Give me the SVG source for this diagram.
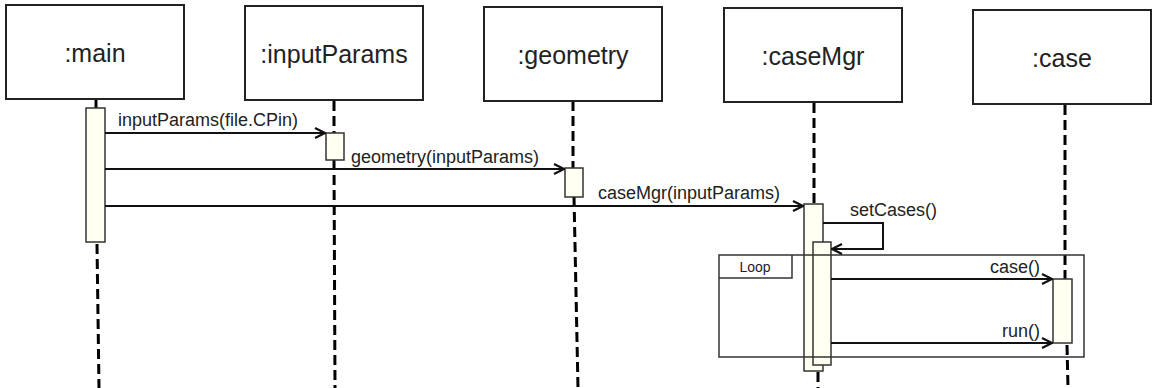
<svg xmlns="http://www.w3.org/2000/svg" width="1152" height="388" viewBox="0 0 1152 388">
<style>
.box{fill:#fff;stroke:#222;stroke-width:2}
.act{fill:#fffff2;stroke:#333;stroke-width:1.5}
.life{stroke:#000;stroke-width:3;stroke-dasharray:10 5;fill:none}
.solid{stroke:#000;stroke-width:3;fill:none}
.msg{stroke:#111;stroke-width:2;fill:none;marker-end:url(#arr)}
.frame{fill:none;stroke:#333;stroke-width:1.5}
.t{font-family:"Liberation Sans",Arial,sans-serif;fill:#222}
.big{font-size:25px;text-anchor:middle}
.lbl{font-size:18px}
</style>
<defs>
<marker id="arr" viewBox="0 0 12 12" refX="11" refY="6" markerWidth="12" markerHeight="12" markerUnits="userSpaceOnUse" orient="auto">
<path d="M1,1 L11,6 L1,11" fill="none" stroke="#111" stroke-width="2.2"/>
</marker>
</defs>
<g id="lifelines">
<line class="solid" x1="96" y1="99" x2="96" y2="108"/>
<line class="life" x1="97" y1="244" x2="99" y2="388"/>
<line class="life" x1="334" y1="101" x2="334" y2="133"/>
<line class="life" x1="334" y1="160" x2="335" y2="388"/>
<line class="life" x1="573" y1="101" x2="573" y2="168"/>
<line class="life" x1="574" y1="197" x2="578" y2="388"/>
<line class="life" x1="814" y1="103" x2="814" y2="204"/>
<line class="life" x1="818" y1="372" x2="818" y2="388"/>
<line class="life" x1="1065" y1="105" x2="1065" y2="279"/>
<line class="life" x1="1067" y1="345" x2="1068" y2="388"/>
</g>
<g id="main">
<rect class="box" x="6" y="5" width="178" height="94"/>
<text class="t big" x="95" y="62">:main</text>
<rect class="act" x="86" y="108" width="19" height="134"/>
</g>
<g id="inputParams">
<rect class="box" x="245" y="6" width="178" height="94"/>
<text class="t big" x="334" y="63">:inputParams</text>
<rect class="act" x="326" y="133" width="18" height="27"/>
</g>
<g id="geometry">
<rect class="box" x="484" y="7" width="178" height="94"/>
<text class="t big" x="573" y="64">:geometry</text>
<rect class="act" x="565" y="168" width="18" height="29"/>
</g>
<g id="caseMgr">
<rect class="box" x="724" y="8" width="178" height="94"/>
<text class="t big" x="813" y="65">:caseMgr</text>
<rect class="act" x="804" y="204" width="19" height="167"/>
<rect class="act" x="813" y="242" width="18" height="123"/>
</g>
<g id="case">
<rect class="box" x="973" y="10" width="178" height="94"/>
<text class="t big" x="1062" y="67">:case</text>
<rect class="act" x="1053" y="279" width="19" height="64"/>
</g>
<g id="loop">
<rect class="frame" x="719" y="255" width="365" height="102"/>
<path class="frame" d="M719,278 H792 V255"/>
<text class="t" x="755" y="272" font-size="14" text-anchor="middle">Loop</text>
</g>
<g id="connectors">
<line class="msg" x1="105" y1="133" x2="325" y2="133"/>
<text class="t lbl" x="118" y="126">inputParams(file.CPin)</text>
<line class="msg" x1="105" y1="169" x2="564" y2="169"/>
<text class="t lbl" x="351" y="163">geometry(inputParams)</text>
<line class="msg" x1="105" y1="206" x2="803" y2="206"/>
<text class="t lbl" x="598" y="199">caseMgr(inputParams)</text>
<path class="msg" d="M823,223 H883 V249 H832"/>
<text class="t lbl" x="850" y="216">setCases()</text>
<line class="msg" x1="831" y1="279" x2="1052" y2="279"/>
<text class="t lbl" x="1040" y="273" text-anchor="end">case()</text>
<line class="msg" x1="831" y1="343" x2="1052" y2="343"/>
<text class="t lbl" x="1040" y="337" text-anchor="end">run()</text>
</g>
</svg>
